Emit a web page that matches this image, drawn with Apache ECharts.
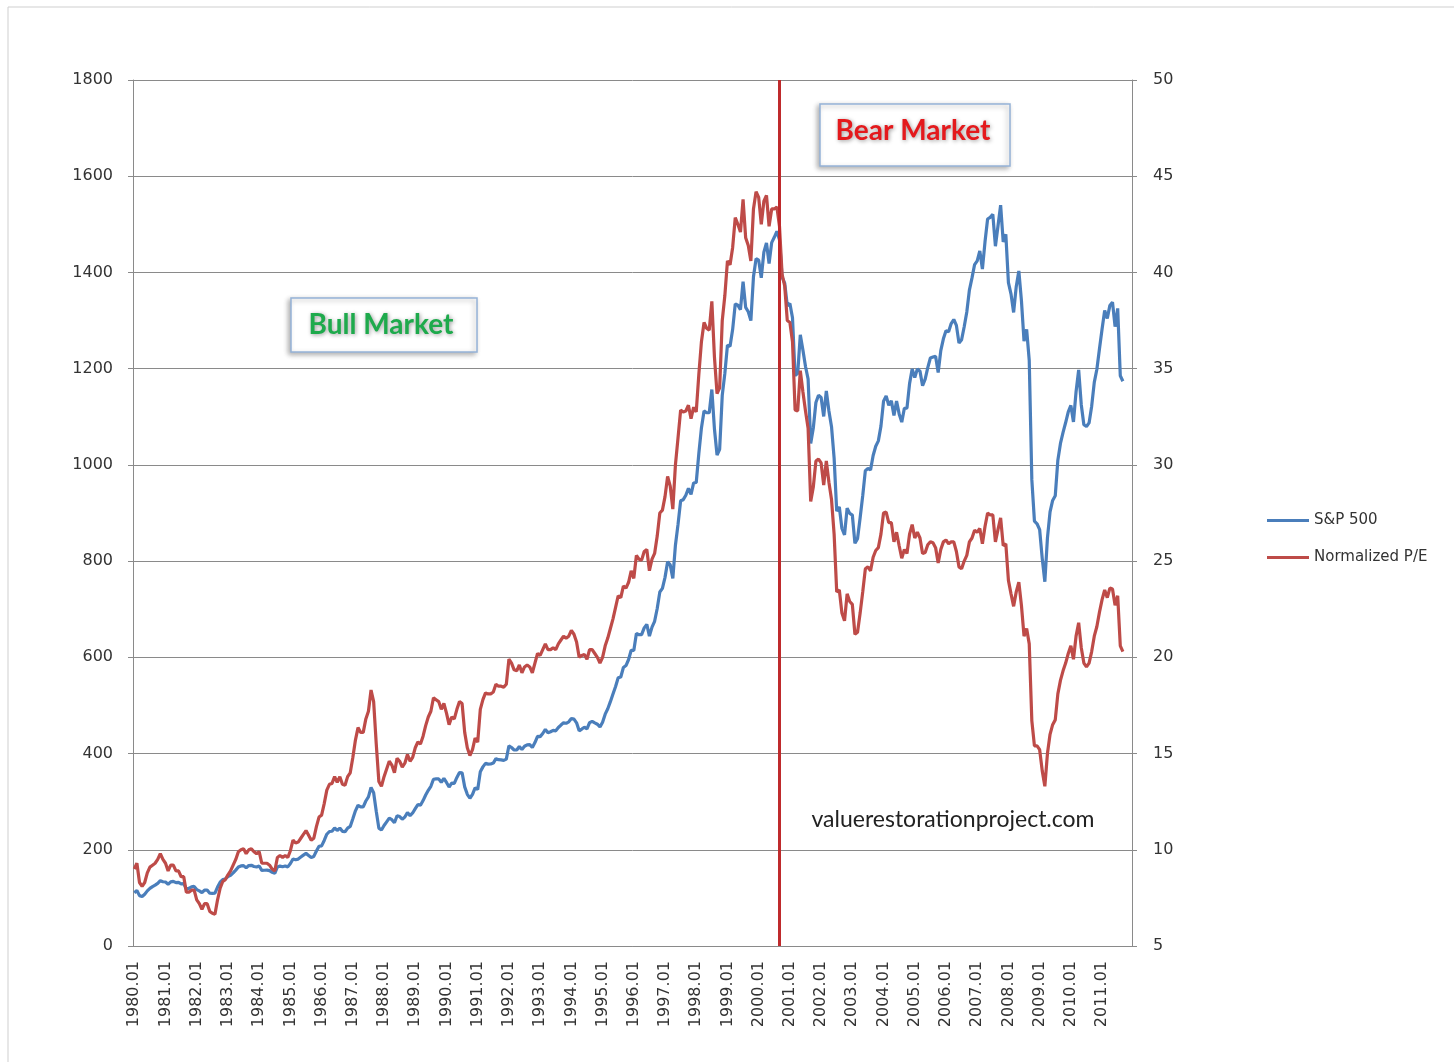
<!DOCTYPE html>
<html>
<head>
<meta charset="utf-8">
<script src="https://cdn.jsdelivr.net/npm/echarts@6/dist/echarts.min.js"></script>
<style>
  html, body { margin: 0; padding: 0; background: #fff; }
  #main { width: 1454px; height: 1062px; }
</style>
</head>
<body>
<div id="main"></div>
<script>
// monthly S&P 500 level, 1980.01 .. 2011.09
var sp500 = [
  110.9, 115.3, 104.7, 103.0, 107.7, 114.6, 119.8, 123.5, 126.5, 130.2, 135.7, 133.5,
  133.0, 128.4, 133.2, 134.4, 131.7, 132.3, 129.1, 129.6, 118.3, 119.8, 122.9, 123.8,
  117.3, 114.5, 110.8, 116.3, 116.4, 109.7, 109.4, 109.7, 122.4, 132.7, 138.1, 139.4,
  144.3, 146.8, 151.9, 157.7, 164.1, 166.4, 167.0, 162.4, 167.2, 167.7, 165.2, 164.4,
  166.4, 157.3, 157.4, 157.6, 156.6, 153.1, 151.1, 164.4, 166.1, 164.8, 166.3, 164.5,
  171.6, 180.9, 179.4, 180.6, 184.9, 188.9, 192.5, 188.3, 184.1, 186.2, 197.5, 207.3,
  208.2, 219.4, 232.3, 238.0, 238.5, 245.3, 240.2, 245.0, 238.3, 237.4, 245.1, 248.6,
  264.5, 280.9, 292.5, 289.3, 289.1, 301.4, 310.1, 329.4, 318.7, 280.2, 245.0, 241.0,
  250.5, 258.1, 265.7, 262.6, 256.1, 270.7, 269.1, 263.7, 268.0, 277.4, 271.0, 276.5,
  285.4, 294.0, 292.7, 302.3, 313.9, 323.7, 331.9, 346.6, 347.3, 347.4, 340.2, 348.6,
  340.0, 330.5, 338.5, 338.2, 350.3, 360.4, 360.0, 330.8, 315.4, 307.1, 315.3, 328.8,
  325.5, 362.3, 372.3, 379.7, 378.0, 378.3, 380.2, 389.4, 387.2, 386.9, 385.9, 388.5,
  416.1, 412.6, 407.4, 407.4, 414.8, 408.3, 415.1, 417.9, 418.5, 412.5, 422.8, 435.6,
  435.2, 441.7, 450.2, 443.1, 445.3, 448.1, 447.3, 454.1, 459.2, 463.9, 462.9, 466.0,
  473.0, 471.6, 463.8, 447.2, 450.9, 454.8, 451.4, 464.2, 467.0, 463.8, 461.0, 455.2,
  465.3, 481.9, 493.2, 507.9, 523.8, 539.4, 557.4, 559.1, 578.8, 582.9, 595.5, 614.6,
  614.4, 649.5, 647.1, 647.2, 661.2, 668.5, 644.1, 662.7, 674.9, 701.5, 735.7, 743.3,
  766.2, 798.4, 792.2, 763.9, 833.1, 876.3, 925.3, 927.7, 937.0, 951.2, 938.9, 962.4,
  963.4, 1023.7, 1076.8, 1112.2, 1108.4, 1108.4, 1156.6, 1074.6, 1020.6, 1032.5, 1144.4, 1190.1,
  1248.8, 1246.6, 1281.7, 1334.8, 1332.1, 1322.6, 1381.0, 1327.5, 1318.2, 1300.0, 1391.0, 1428.7,
  1425.6, 1388.9, 1442.2, 1461.4, 1418.5, 1462.0, 1473.0, 1485.5, 1468.1, 1390.1, 1378.0, 1330.9,
  1335.6, 1305.8, 1185.9, 1189.8, 1270.4, 1238.7, 1204.5, 1178.5, 1044.6, 1076.6, 1129.7, 1144.9,
  1140.2, 1100.7, 1153.8, 1112.0, 1079.3, 1014.1, 903.6, 912.6, 867.8, 854.6, 909.9, 899.2,
  895.8, 837.0, 846.6, 890.0, 936.0, 988.0, 992.5, 989.5, 1019.4, 1038.7, 1049.9, 1080.6,
  1132.5, 1143.4, 1124.0, 1133.1, 1102.8, 1132.8, 1105.9, 1088.9, 1117.7, 1118.1, 1168.9, 1199.2,
  1181.4, 1199.6, 1194.9, 1164.4, 1178.3, 1202.3, 1222.2, 1224.3, 1225.9, 1192.0, 1237.4, 1262.1,
  1278.7, 1276.7, 1293.7, 1302.2, 1290.0, 1253.1, 1260.2, 1287.2, 1317.8, 1363.4, 1388.6, 1416.4,
  1424.2, 1444.8, 1407.0, 1463.7, 1511.1, 1514.5, 1520.7, 1454.6, 1497.1, 1539.7, 1463.4, 1479.2,
  1378.8, 1354.9, 1316.9, 1370.5, 1403.2, 1341.3, 1257.3, 1281.5, 1217.0, 968.8, 883.0, 877.6,
  865.6, 805.2, 757.1, 848.2, 902.4, 926.1, 935.8, 1009.7, 1044.6, 1067.7, 1088.1, 1110.4,
  1123.6, 1089.2, 1152.1, 1197.3, 1125.1, 1083.4, 1079.8, 1087.3, 1122.1, 1171.6, 1198.9, 1241.5,
  1282.6, 1321.1, 1304.5, 1331.5, 1338.3, 1287.3, 1325.2, 1185.3, 1173.9
];

// monthly normalized P/E, same months
var normPE = [
  9.0, 9.3, 8.3, 8.1, 8.3, 8.8, 9.1, 9.2, 9.3, 9.5, 9.8, 9.5,
  9.3, 8.9, 9.2, 9.2, 8.9, 8.9, 8.6, 8.6, 7.8, 7.8, 7.9, 7.9,
  7.4, 7.2, 6.9, 7.2, 7.2, 6.8, 6.7, 6.65, 7.4, 8.0, 8.35, 8.45,
  8.7, 8.9, 9.2, 9.5, 9.9, 10.0, 10.05, 9.8, 10.0, 10.05, 9.9, 9.8,
  9.9, 9.3, 9.3, 9.3, 9.2, 9.0, 8.9, 9.6, 9.7, 9.6, 9.7, 9.6,
  9.95, 10.5, 10.35, 10.4, 10.6, 10.8, 11.0, 10.75, 10.5, 10.6, 11.2, 11.7,
  11.8, 12.4, 13.1, 13.4, 13.45, 13.8, 13.5, 13.8, 13.4, 13.35, 13.8, 14.0,
  14.8, 15.7, 16.35, 16.1, 16.1, 16.8, 17.2, 18.3, 17.7, 15.5, 13.55, 13.3,
  13.8, 14.2, 14.6, 14.4, 14.0, 14.75, 14.6, 14.3, 14.5, 14.95, 14.6, 14.8,
  15.3, 15.6, 15.5, 15.9, 16.45, 16.9, 17.2, 17.9, 17.8, 17.7, 17.3, 17.6,
  17.1, 16.5, 16.9, 16.8, 17.3, 17.7, 17.6, 16.1, 15.3, 14.9, 15.2, 15.8,
  15.6, 17.3, 17.8, 18.15, 18.1, 18.1, 18.2, 18.6, 18.5, 18.5, 18.45, 18.6,
  19.9, 19.7, 19.35, 19.3, 19.6, 19.2, 19.5, 19.6, 19.5, 19.2, 19.7, 20.2,
  20.1, 20.4, 20.7, 20.4, 20.4, 20.5, 20.4, 20.7, 20.9, 21.1, 21.0, 21.1,
  21.4, 21.2, 20.8, 20.0, 20.1, 20.15, 19.9, 20.4, 20.4, 20.2, 20.0, 19.7,
  20.0, 20.6, 21.0, 21.5, 22.0, 22.6, 23.2, 23.1, 23.7, 23.6, 23.9, 24.5,
  24.1, 25.3, 25.1, 25.05, 25.5, 25.6, 24.5, 25.1, 25.4, 26.3, 27.5, 27.65,
  28.35, 29.4, 28.9, 27.7, 30.0, 31.4, 32.85, 32.75, 32.8, 33.1, 32.4, 33.0,
  32.75, 34.7, 36.4, 37.4, 37.1, 37.0, 38.5, 35.6, 33.7, 34.0, 37.5, 38.8,
  40.6, 40.4, 41.3, 42.85, 42.5, 42.1, 43.8, 41.8, 41.4, 40.6, 43.3, 44.2,
  43.9, 42.5, 43.7, 44.0, 42.4, 43.3, 43.3, 43.4, 42.4, 39.9, 39.3, 37.5,
  37.4, 36.4, 32.85, 32.8, 34.9, 33.8, 32.8, 31.9, 28.1, 28.85, 30.2, 30.3,
  30.1, 28.95, 30.2, 29.1, 28.2, 26.4, 23.4, 23.5, 22.3, 21.9, 23.3, 22.9,
  22.75, 21.2, 21.3, 22.3, 23.4, 24.6, 24.7, 24.5, 25.2, 25.55, 25.7, 26.4,
  27.5, 27.55, 27.0, 27.0, 26.0, 26.5, 25.8, 25.15, 25.6, 25.4, 26.4, 26.9,
  26.2, 26.5, 26.2, 25.4, 25.45, 25.85, 26.0, 25.95, 25.7, 24.9, 25.6, 26.0,
  26.1, 25.9, 26.0, 26.0, 25.5, 24.7, 24.6, 25.0, 25.3, 26.0, 26.2, 26.6,
  26.5, 26.7, 25.9, 26.8, 27.5, 27.4, 27.4, 26.0, 26.65, 27.25, 25.8, 25.9,
  24.0, 23.3, 22.65, 23.4, 23.9, 22.7, 21.1, 21.5, 20.7, 16.7, 15.4, 15.4,
  15.2, 14.1, 13.3, 15.0, 16.0, 16.5, 16.75, 18.1, 18.8, 19.3, 19.7, 20.2,
  20.6, 19.9, 21.1, 21.8, 20.5, 19.7, 19.5, 19.7, 20.3, 21.1, 21.6, 22.35,
  23.0, 23.5, 23.1, 23.6, 23.55, 22.7, 23.2, 20.6, 20.3
];

var firstYear = 1980;
var lastYear = 2011;
var bearStart = '2000.09';

// month categories 1980.01 .. 2011.12
var months = [];
for (var y = firstYear; y <= lastYear; y++) {
  for (var m = 1; m <= 12; m++) {
    months.push(y + '.' + (m < 10 ? '0' + m : m));
  }
}

var font = 'Lato, "Open Sans", sans-serif';
var axisFont = '"DejaVu Sans", sans-serif';
var gridColor = '#8a8a8a';
var blue = '#4A7EBB';
var red = '#BE4B48';

var chartDom = document.getElementById('main');
var myChart = echarts.init(chartDom);
var option;

function plain(v) { return String(v); }

option = {
  backgroundColor: '#fff',
  animation: false,
  textStyle: { fontFamily: axisFont },
  grid: { left: 133, right: 322, top: 80, bottom: 116 },
  legend: {
    orient: 'vertical',
    left: 1262,
    top: 508,
    icon: 'rect',
    itemWidth: 42,
    itemHeight: 3,
    itemGap: 22,
    textStyle: { fontSize: 15, color: '#333', fontFamily: axisFont },
    data: ['S&P 500', 'Normalized P/E']
  },
  xAxis: {
    type: 'category',
    data: months,
    boundaryGap: true,
    axisLine: { lineStyle: { color: gridColor } },
    axisTick: { interval: 11, length: 5, lineStyle: { color: gridColor } },
    axisLabel: { interval: 11, rotate: 90, fontSize: 16, color: '#333', margin: 15 },
    splitLine: { show: false }
  },
  yAxis: [
    {
      type: 'value',
      min: 0,
      max: 1800,
      interval: 200,
      axisLine: { show: true, lineStyle: { color: gridColor } },
      axisTick: { show: true, length: 5, lineStyle: { color: gridColor } },
      axisLabel: { fontSize: 16, color: '#333', margin: 20, formatter: plain },
      splitLine: { lineStyle: { color: gridColor, width: 1 } }
    },
    {
      type: 'value',
      min: 5,
      max: 50,
      interval: 5,
      position: 'right',
      axisLine: { show: true, lineStyle: { color: gridColor } },
      axisTick: { show: true, length: 5, lineStyle: { color: gridColor } },
      axisLabel: { fontSize: 16, color: '#333', margin: 21, formatter: plain },
      splitLine: { show: false }
    }
  ],
  series: [
    {
      name: 'S&P 500',
      type: 'line',
      yAxisIndex: 0,
      data: sp500,
      showSymbol: false,
      color: blue,
      lineStyle: { width: 3.2, color: blue },
      markLine: {
        silent: true,
        symbol: 'none',
        label: { show: false },
        lineStyle: { color: '#BF2A2C', width: 3, type: 'solid' },
        data: [{ xAxis: bearStart }]
      }
    },
    {
      name: 'Normalized P/E',
      type: 'line',
      yAxisIndex: 1,
      data: normPE,
      showSymbol: false,
      color: red,
      lineStyle: { width: 3.2, color: red }
    }
  ],
  graphic: [
    {
      type: 'rect',
      shape: { x: 8, y: 7, width: 1500, height: 1100 },
      style: { fill: 'none', stroke: '#cfcfcf', lineWidth: 1 },
      silent: true
    },
    {
      type: 'rect',
      shape: { x: 291, y: 298, width: 186, height: 54 },
      style: {
        fill: '#fff', stroke: '#95B3D7', lineWidth: 1.5,
        shadowBlur: 5, shadowColor: 'rgba(0,0,0,0.3)', shadowOffsetX: -2, shadowOffsetY: 2
      },
      z: 10
    },
    {
      type: 'text',
      x: 381,
      y: 325,
      style: {
        text: 'Bull Market',
        fontSize: 28,
        fontWeight: 'bold',
        fontFamily: font,
        fill: '#1EAA4C',
        align: 'center',
        verticalAlign: 'middle',
        textShadowColor: 'rgba(0,0,0,0.4)',
        textShadowBlur: 4,
        textShadowOffsetX: 1,
        textShadowOffsetY: 1
      },
      z: 11
    },
    {
      type: 'rect',
      shape: { x: 820, y: 104, width: 190, height: 62 },
      style: {
        fill: '#fff', stroke: '#95B3D7', lineWidth: 1.5,
        shadowBlur: 5, shadowColor: 'rgba(0,0,0,0.3)', shadowOffsetX: -2, shadowOffsetY: 2
      },
      z: 10
    },
    {
      type: 'text',
      x: 913,
      y: 131,
      style: {
        text: 'Bear Market',
        fontSize: 28,
        fontWeight: 'bold',
        fontFamily: font,
        fill: '#E4191C',
        align: 'center',
        verticalAlign: 'middle',
        textShadowColor: 'rgba(0,0,0,0.4)',
        textShadowBlur: 4,
        textShadowOffsetX: 1,
        textShadowOffsetY: 1
      },
      z: 11
    },
    {
      type: 'text',
      x: 953,
      y: 820,
      style: {
        text: 'valuerestorationproject.com',
        fontSize: 23,
        fontFamily: font,
        fill: '#222',
        align: 'center',
        verticalAlign: 'middle'
      },
      z: 11
    }
  ]
};

option && myChart.setOption(option);
</script>
</body>
</html>
